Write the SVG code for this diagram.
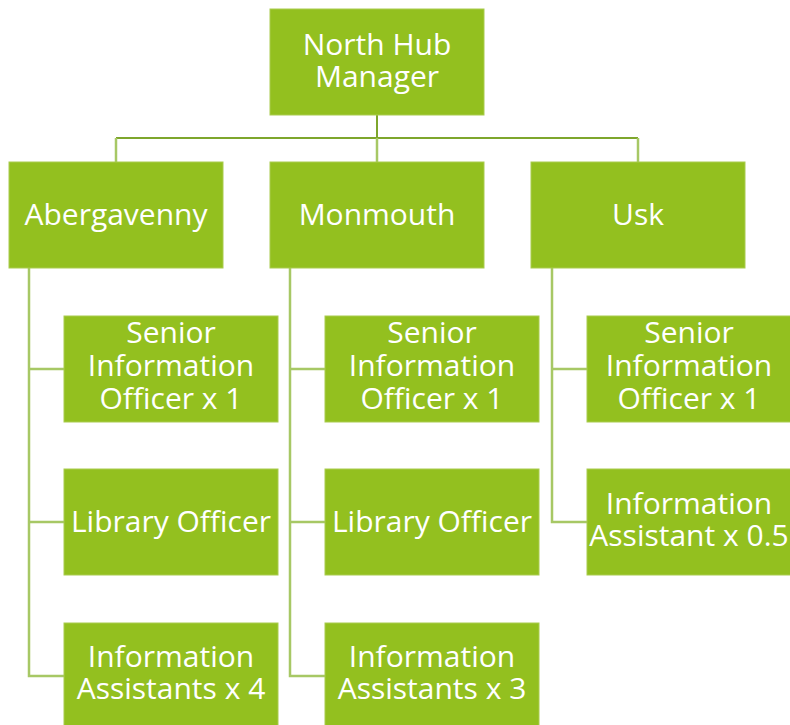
<svg xmlns="http://www.w3.org/2000/svg" width="790" height="725" viewBox="0 0 790 725">
<style>
.box{fill:#93c01f;stroke:#a9cc4f;stroke-width:1}
.t{font-family:"Open Sans","DejaVu Sans",sans-serif;font-size:30px;fill:#ffffff;text-anchor:middle}
.bus{stroke:#7ea62c;stroke-width:2;fill:none}
.lk{stroke:#a7c865;stroke-width:2.5;fill:none}
</style>
<rect width="790" height="725" fill="#ffffff"/>
<g id="connectors">
<line class="bus" x1="116" y1="138" x2="638" y2="138"/>
<line class="bus" x1="377" y1="115" x2="377" y2="138"/>
<line class="lk" x1="116" y1="138" x2="116" y2="162"/>
<line class="lk" x1="377" y1="138" x2="377" y2="162"/>
<line class="lk" x1="638" y1="138" x2="638" y2="162"/>
<polyline class="lk" points="29,268 29,676 64,676"/>
<line class="lk" x1="29" y1="369" x2="64" y2="369"/>
<line class="lk" x1="29" y1="522" x2="64" y2="522"/>
<polyline class="lk" points="290,268 290,676 325,676"/>
<line class="lk" x1="290" y1="369" x2="325" y2="369"/>
<line class="lk" x1="290" y1="522" x2="325" y2="522"/>
<polyline class="lk" points="552,268 552,522 587,522"/>
<line class="lk" x1="552" y1="369" x2="587" y2="369"/>
</g>
<g id="north-hub-manager">
<rect class="box" x="270" y="9" width="214" height="106"/>
<text class="t" x="377" y="55">North Hub<tspan x="377" dy="32">Manager</tspan></text>
</g>
<g id="abergavenny">
<rect class="box" x="9" y="162" width="214" height="106"/>
<text class="t" x="116" y="225">Abergavenny</text>
</g>
<g id="monmouth">
<rect class="box" x="270" y="162" width="214" height="106"/>
<text class="t" x="377" y="225">Monmouth</text>
</g>
<g id="usk">
<rect class="box" x="531" y="162" width="214" height="106"/>
<text class="t" x="638" y="225">Usk</text>
</g>
<g id="aber-senior">
<rect class="box" x="64" y="316" width="214" height="106"/>
<text class="t" x="171" y="343">Senior<tspan x="171" dy="33">Information</tspan><tspan x="171" dy="33">Officer x 1</tspan></text>
</g>
<g id="aber-library">
<rect class="box" x="64" y="469" width="214" height="106"/>
<text class="t" x="171" y="532">Library Officer</text>
</g>
<g id="aber-assistants">
<rect class="box" x="64" y="623" width="214" height="106"/>
<text class="t" x="171" y="667">Information<tspan x="171" dy="32">Assistants x 4</tspan></text>
</g>
<g id="mon-senior">
<rect class="box" x="325" y="316" width="214" height="106"/>
<text class="t" x="432" y="343">Senior<tspan x="432" dy="33">Information</tspan><tspan x="432" dy="33">Officer x 1</tspan></text>
</g>
<g id="mon-library">
<rect class="box" x="325" y="469" width="214" height="106"/>
<text class="t" x="432" y="532">Library Officer</text>
</g>
<g id="mon-assistants">
<rect class="box" x="325" y="623" width="214" height="106"/>
<text class="t" x="432" y="667">Information<tspan x="432" dy="32">Assistants x 3</tspan></text>
</g>
<g id="usk-senior">
<rect class="box" x="587" y="316" width="214" height="106"/>
<text class="t" x="689" y="343">Senior<tspan x="689" dy="33">Information</tspan><tspan x="689" dy="33">Officer x 1</tspan></text>
</g>
<g id="usk-assistant">
<rect class="box" x="587" y="469" width="214" height="106"/>
<text class="t" x="689" y="514">Information<tspan x="689" dy="32">Assistant x 0.5</tspan></text>
</g>
</svg>
